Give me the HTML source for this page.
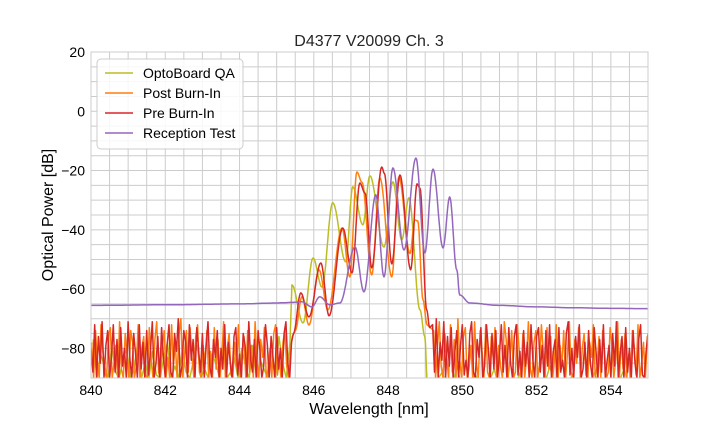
<!DOCTYPE html>
<html><head><meta charset="utf-8"><style>
body{margin:0;background:#fff;}
svg{display:block;font-family:"Liberation Sans","DejaVu Sans",sans-serif;}
</style></head><body>
<svg id="chart" width="720" height="432" viewBox="0 0 720 432">
<defs><clipPath id="plotclip"><rect x="91" y="52" width="557" height="326"/></clipPath></defs>
<rect x="0" y="0" width="720" height="432" fill="#fff"/>
<g id="grid"></g>
<g id="series" clip-path="url(#plotclip)"></g>
<rect x="91" y="52" width="557" height="326" fill="none" stroke="#cccccc" stroke-width="1"/>
<g id="ticks"></g>
<text x="369" y="46" text-anchor="middle" font-size="16" fill="#262626">D4377 V20099 Ch. 3</text>
<text x="369" y="414" text-anchor="middle" font-size="16" fill="#000">Wavelength [nm]</text>
<text x="0" y="0" transform="translate(53,215) rotate(-90)" text-anchor="middle" font-size="16" fill="#000">Optical Power [dB]</text>
<g id="legend"></g>
</svg>
<script>
const xTicks=[840,842,844,846,848,850,852,854];
const yTicks=[20,0,-20,-40,-60,-80];
const seriesNames=["OptoBoard QA","Post Burn-In","Pre Burn-In","Reception Test"];
const seriesColors=["#bcbd22","#ff7f0e","#d62728","#9467bd"];
const noiseStep=[0.1,0.05,0.05];
const noiseLeftStart=[840.06,840.02,840.0];
const noiseRightStart=[849.16,849.23,849.2];
const oliveNoiseLeft=[-77,-90,-82,-86,-90,-79,-88,-90,-84,-80,-90,-87,-78,-90,-85,-90,-81,-89,-90,-83,-78,-90,-86,-90,-80,-88,-90,-84,-79,-90,-87,-90,-82,-85,-90,-78,-90,-88,-83,-90,-80,-86,-90,-79,-90,-84,-87,-90,-81,-90,-76,-85,-90,-78];
const oliveNoiseRight=[-90,-92,-90,-88,-92,-90,-91,-86,-92,-90,-92,-90,-89,-92,-90,-92,-90,-87,-92,-90,-92,-91,-90,-92,-88,-92,-90,-92,-90,-91,-92,-90,-86,-92,-90,-92,-90,-92,-89,-92,-90,-92,-90,-92,-88,-92,-90,-92,-91,-90,-92,-90,-87,-92,-90,-92,-90,-92,-90];
const orangeNoiseLeft=[-78,-90,-74,-84,-90,-72,-81,-88,-90,-76,-73,-90,-85,-79,-90,-71,-87,-90,-75,-82,-90,-74,-78,-90,-86,-72,-90,-80,-76,-89,-90,-73,-84,-90,-77,-71,-88,-90,-79,-74,-90,-83,-90,-72,-86,-78,-90,-75,-70,-90,-82,-74,-88,-73,
-83,-90,-76,-72,-88,-90,-79,-85,-74,-90,-81,-90,-73,-87,-77,-90,-84,-71,-90,-80,-75,-89,-90,-78,-86,-72,-90,-82,-76,-90,-74,-88,-79,-90,-71,-85,-90,-77,-83,-73,-90,-87,-80,-90,-75,-72,-89,-84,-90,-78,-74,-86,-90,-81,-76];
const orangeNoiseRight=[-74,-90,-79,-71,-86,-90,-75,-83,-90,-72,-88,-77,-90,-70,-84,-90,-76,-73,-90,-87,-79,-90,-71,-85,-90,-74,-81,-90,-72,-88,-90,-76,-83,-73,-90,-79,-86,-90,-71,-77,-90,-84,-74,-90,-88,-72,-80,-90,-75,-90,-83,-71,-87,-90,-78,-74,-90,-85,-72,
-81,-90,-73,-87,-76,-90,-84,-72,-90,-79,-86,-74,-90,-82,-71,-88,-90,-77,-85,-73,-90,-80,-75,-89,-90,-78,-83,-72,-90,-86,-76,-90,-74,-81,-90,-88,-73,-79,-90,-84,-71,-90,-77,-87,-75,-90,-82,-90,-74,-80,-89,-72,-90,-85,-78,-90,-76,-83];
const redNoiseLeft=[-80,-88,-72,-90,-76,-85,-71,-90,-79,-74,-90,-83,-72,-88,-77,-90,-73,-86,-80,-90,-71,-84,-90,-75,-82,-90,-72,-87,-78,-90,-74,-89,-81,-71,-90,-85,-76,-90,-73,-83,-90,-79,-72,-88,-90,-75,-81,-70,-90,-86,-74,-78,-90,-72,
-84,-77,-90,-73,-81,-88,-75,-90,-79,-71,-86,-90,-77,-83,-74,-90,-80,-87,-72,-90,-78,-85,-90,-76,-73,-89,-82,-90,-75,-79,-90,-71,-84,-88,-77,-90,-74,-81,-90,-86,-72,-79,-90,-76,-83,-90,-73,-87,-80,-90,-75,-71,-85,-90,-78];
const redNoiseRight=[-72,-88,-70,-90,-78,-84,-71,-90,-76,-86,-73,-90,-81,-74,-90,-79,-72,-89,-84,-90,-75,-71,-88,-90,-77,-83,-73,-90,-86,-72,-80,-90,-75,-87,-74,-90,-82,-72,-88,-79,-90,-73,-85,-90,-76,-72,-89,-81,-90,-74,-86,-78,-90,-72,-84,-90,-76,-73,-88,
-79,-90,-74,-86,-72,-90,-81,-77,-90,-73,-88,-84,-90,-75,-71,-89,-80,-90,-76,-83,-72,-90,-87,-78,-90,-74,-85,-90,-73,-81,-90,-77,-88,-72,-90,-84,-79,-90,-75,-86,-71,-90,-82,-76,-90,-73,-88,-80,-90,-74,-85,-90,-77,-72,-89,-90,-81,-75];
const olivePeakWl=[845.41,845.71,845.98,846.22,846.51,846.86,847.05,847.32,847.51,847.89,848.13,848.37,848.56,848.86,848.99,849.06];
const olivePeakDb=[-58.6,-71.4,-49.5,-59.3,-30.9,-50.8,-25.5,-38.3,-21.8,-45.8,-23.8,-43.4,-29.2,-67,-76,-92];
const orangePeakWl=[845.5,845.68,845.87,846.14,846.38,846.76,846.97,847.16,847.3,847.56,847.78,848.1,848.29,848.59,848.72,848.8,848.94,849.05];
const orangePeakDb=[-74,-62.6,-72.1,-53.5,-67,-39.4,-55.9,-20.5,-24,-55.2,-22.5,-55.9,-22.2,-48,-36.7,-37,-63.6,-72];
const redPeakWl=[845.45,845.65,845.87,846.19,846.41,846.78,847.03,847.24,847.38,847.56,847.83,847.9,848.1,848.32,848.61,848.78,848.86,849.04,849.12];
const redPeakDb=[-75,-61.3,-69.4,-51.2,-69,-39.4,-54.5,-24.2,-27.6,-52.8,-18.8,-21,-51.5,-21.5,-53.5,-24.5,-26,-67,-73];
const purpleWl=[840,842,844,845,845.17,845.4,845.68,845.95,846.16,846.43,846.7,847.11,847.35,847.67,847.89,848.13,848.43,848.75,848.99,849.21,849.48,849.66,849.85,849.93,850.2,851,852,853,854,855];
const purpleDb=[-65.5,-65.3,-65,-64.7,-64.6,-64.5,-64.3,-66,-62.6,-65.3,-64.7,-45.8,-60.9,-28.2,-55.9,-19.1,-46.8,-15.8,-47.8,-19.5,-46.1,-28.9,-53.5,-62,-64.7,-65.5,-66,-66.3,-66.5,-66.6];

const NS="http://www.w3.org/2000/svg";
const L=91,R=648,T=52,B=378;
const xs=v=>L+(v-840)/15*(R-L);
const ys=v=>T+(20-v)/110*(B-T);
function mk(tag,attrs,parent){const e=document.createElementNS(NS,tag);for(const k in attrs)e.setAttribute(k,attrs[k]);parent.appendChild(e);return e;}
const grid=document.getElementById('grid');
for(let w=840;w<=855;w+=0.5){const l=mk('line',{x1:xs(w),x2:xs(w),y1:T,y2:B,stroke:'#cccccc','stroke-width':1},grid);

}
for(let d=20;d>=-90;d-=5){const l=mk('line',{x1:L,x2:R,y1:ys(d),y2:ys(d),stroke:'#cccccc','stroke-width':1},grid);

}
const ticks=document.getElementById('ticks');
xTicks.forEach(t=>{const e=mk('text',{x:xs(t),y:B+17,'text-anchor':'middle','font-size':14,fill:'#000'},ticks);e.textContent=t;

});
yTicks.forEach(t=>{const e=mk('text',{x:L-6,y:ys(t)+5,'text-anchor':'end','font-size':14,fill:'#000'},ticks);e.textContent=t<0?'\u2212'+(-t):t;

});
function noisePts(start,step,vals){return vals.map((v,i)=>[xs(start+i*step),ys(v)]);}
function cosPath(pts){let d='';for(let i=0;i<pts.length-1;i++){const a=pts[i],b=pts[i+1];const n=Math.max(2,Math.ceil((b[0]-a[0])*1.5));
for(let k=1;k<=n;k++){const t=k/n;const x=a[0]+(b[0]-a[0])*t;const y=a[1]+(b[1]-a[1])*(1-Math.cos(Math.PI*t))/2;d+=` L${x.toFixed(1)},${y.toFixed(1)}`;}}return d;}
function lin(pts){return pts.map(p=>` L${p[0].toFixed(1)},${p[1].toFixed(1)}`).join('');}
function build(i,nl,wl,db,nr){const left=noisePts(noiseLeftStart[i],noiseStep[i],nl),peak=wl.map((w,k)=>[xs(w),ys(db[k])]),right=noisePts(noiseRightStart[i],noiseStep[i],nr);
return 'M'+left[0][0].toFixed(1)+','+left[0][1].toFixed(1)+lin(left.slice(1))+lin([peak[0]])+cosPath(peak)+lin(right);}
const sl=document.getElementById('series');
const paths=[build(0,oliveNoiseLeft,olivePeakWl,olivePeakDb,oliveNoiseRight),build(1,orangeNoiseLeft,orangePeakWl,orangePeakDb,orangeNoiseRight),build(2,redNoiseLeft,redPeakWl,redPeakDb,redNoiseRight),(()=>{const p=purpleWl.map((w,k)=>[xs(w),ys(purpleDb[k])]);return 'M'+p[0][0]+','+p[0][1]+cosPath(p);})()];
const sNames=['series-optoboard-qa','series-post-burn-in','series-pre-burn-in','series-reception-test'];
paths.forEach((d,i)=>{const p=mk('path',{d:d,fill:'none',stroke:seriesColors[i],'stroke-width':1.5,'stroke-linejoin':'round'},sl);

});
const lg=document.getElementById('legend');
const box=mk('rect',{x:97,y:59,width:146,height:90,rx:4,fill:'#fff','fill-opacity':0.85,stroke:'#cccccc'},lg);


seriesNames.forEach((n,i)=>{const y=73+i*20;const g=mk('g',{},lg);


mk('line',{x1:105,x2:133,y1:y,y2:y,stroke:seriesColors[i],'stroke-width':1.5},g);
const t=mk('text',{x:143,y:y+5,'font-size':14,fill:'#000'},g);t.textContent=n;});
</script>
</body></html>
